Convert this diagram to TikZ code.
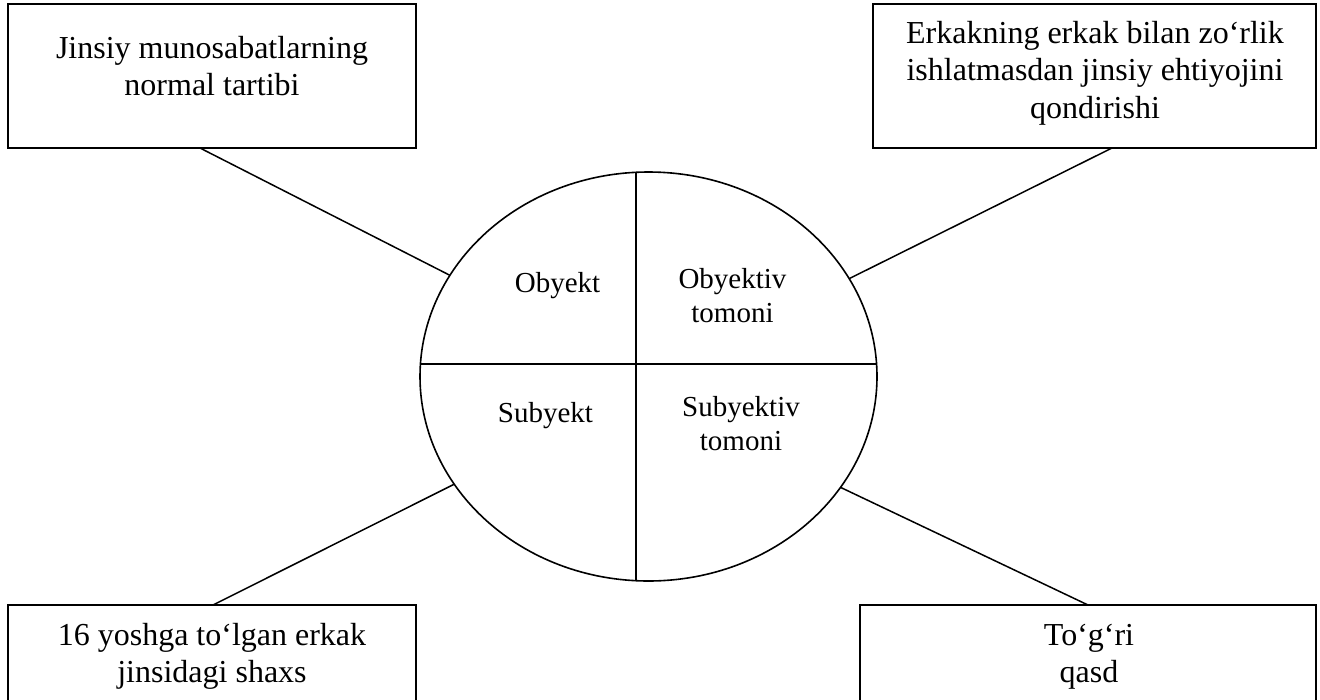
\documentclass[tikz,border=0pt]{standalone}
\usepackage{fontspec}
\setmainfont{Liberation Serif}
\usetikzlibrary{shapes.geometric,calc}
\begin{document}
\begin{tikzpicture}[x=1pt,y=-1pt,
  box/.style={draw,line width=1.6pt,rectangle,inner sep=0pt,outer sep=0pt,anchor=north west},
  txt/.style={inner sep=0pt,anchor=base,font=\fontsize{32}{37.5}\selectfont},
  etxt/.style={inner sep=0pt,anchor=base,font=\fontsize{29}{34}\selectfont},
  link/.style={line width=1.5pt}]
\useasboundingbox (0,0) rectangle (1320,699);
\clip (0,0) rectangle (1320,699);
% boxes
\node[box,minimum width=408pt,minimum height=144pt] (tl) at (8,4) {};
\node[box,minimum width=443pt,minimum height=144pt] (tr) at (873,4) {};
\node[box,minimum width=408pt,minimum height=110pt] (bl) at (8,605) {};
\node[box,minimum width=456pt,minimum height=110pt] (br) at (860,605) {};
% ellipse
\node[draw,ellipse,line width=1.6pt,inner sep=0pt,outer sep=0pt,minimum width=457pt,minimum height=409pt] (ell) at (648.5,376.5) {};
\coordinate (vt) at ($(ell.center)+(-12.5,-204.2)$);
\coordinate (vb) at ($(ell.center)+(-12.5,204.2)$);
\coordinate (hl) at ($(ell.center)+(-228.1,-12.5)$);
\coordinate (hr) at ($(ell.center)+(228.1,-12.5)$);
\draw[link] (vt) -- (vb);
\draw[link] (hl) -- (hr);
% connectors
\draw[link] ($(tl.south west)+(192,0)$) -- (ell.153.4);
\draw[link] ($(tr.south west)+(239,0)$) -- (ell.26.2);
\draw[link] ($(bl.north west)+(205,0)$) -- (ell.209);
\draw[link] ($(br.north west)+(228,0)$) -- (ell.330);
% box texts
\node[txt] (tlt) at (212,58.3) {\begin{tabular}[t]{@{}c@{}}Jinsiy munosabatlarning\\normal tartibi\end{tabular}};
\node[txt] (trt) at (1095,43.3) {\begin{tabular}[t]{@{}c@{}}Erkakning erkak bilan zo‘rlik\\ishlatmasdan jinsiy ehtiyojini\\qondirishi\end{tabular}};
\node[txt] (blt) at (212,645) {\begin{tabular}[t]{@{}c@{}}16 yoshga to‘lgan erkak\\jinsidagi shaxs\end{tabular}};
\node[txt] (brt) at (1089,645) {\begin{tabular}[t]{@{}c@{}}To‘g‘ri\\qasd\end{tabular}};
% ellipse texts
\node[etxt] (ob) at (557.5,292.3) {Obyekt};
\node[etxt] (obt) at (732.5,288.3) {\begin{tabular}[t]{@{}c@{}}Obyektiv\\tomoni\end{tabular}};
\node[etxt] (sb) at (545.5,422.7) {Subyekt};
\node[etxt] (sbt) at (741,416.7) {\begin{tabular}[t]{@{}c@{}}Subyektiv\\tomoni\end{tabular}};
\end{tikzpicture}
\end{document}
